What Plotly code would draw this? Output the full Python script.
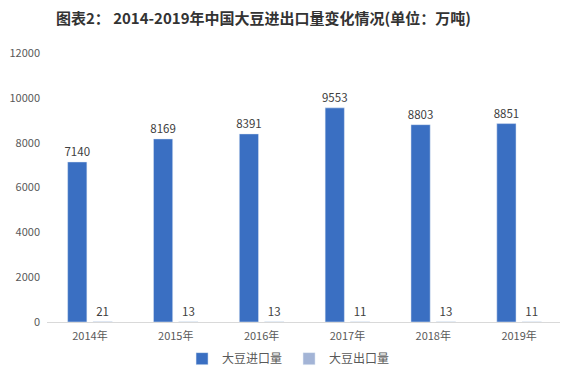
import plotly.graph_objects as go

years = ["2014年", "2015年", "2016年", "2017年", "2018年", "2019年"]
imports = [7140, 8169, 8391, 9553, 8803, 8851]
exports = [21, 13, 13, 11, 13, 11]
tick_vals = [0, 2000, 4000, 6000, 8000, 10000, 12000]
tick_text = ["0", "2000", "4000", "6000", "8000", "10000", "12000"]

font_family = "Microsoft YaHei, Noto Sans CJK SC, sans-serif"

# The page body has an 8px default margin, so the figure is 560x366 to fill the 568x374 window.
fig = go.Figure()
fig.add_trace(go.Bar(
    x=years, y=imports, name="大豆进口量",
    marker_color="#3A6FC2",
    text=[str(v) for v in imports], textposition="outside",
    constraintext="none",
    textfont=dict(size=11.5, color="#404040"), cliponaxis=False,
))
fig.add_trace(go.Bar(
    x=years, y=exports, name="大豆出口量",
    marker_color="#A3B4D6",
    text=[str(v) for v in exports], textposition="outside",
    constraintext="none",
    textfont=dict(size=11.5, color="#404040"), cliponaxis=False,
))

fig.update_layout(
    width=560, height=366,
    margin=dict(l=39, r=6, t=45, b=52),
    paper_bgcolor="white", plot_bgcolor="white",
    font=dict(family=font_family, size=11, color="#595959"),
    title=dict(
        text="<b>图表2： 2014-2019年中国大豆进出口量变化情况(单位：万吨)</b>",
        x=0.456, xanchor="center", y=0.97, yanchor="middle",
        font=dict(size=15, color="#333333", family=font_family),
    ),
    barmode="group", bargap=0.41, bargroupgap=0.24,
    showlegend=True,
    legend=dict(orientation="h", x=0.47, xanchor="center",
                yref="container", y=0.042, yanchor="middle",
                bgcolor="rgba(0,0,0,0)",
                font=dict(size=12, color="#595959"), itemwidth=30,
                entrywidth=62, entrywidthmode="pixels",
                traceorder="normal"),
    xaxis=dict(showline=True, linecolor="#D9D9D9", linewidth=1, automargin=False,
               ticks="", ticklabelstandoff=4,
               tickfont=dict(size=11, color="#595959"), showgrid=False),
    yaxis=dict(range=[0, 12000], tickvals=tick_vals, ticktext=tick_text, showgrid=False,
               zeroline=False, showline=False, ticklabelstandoff=6, automargin=False,
               tickfont=dict(size=11, color="#595959")),
)

fig.write_html("out.html")
